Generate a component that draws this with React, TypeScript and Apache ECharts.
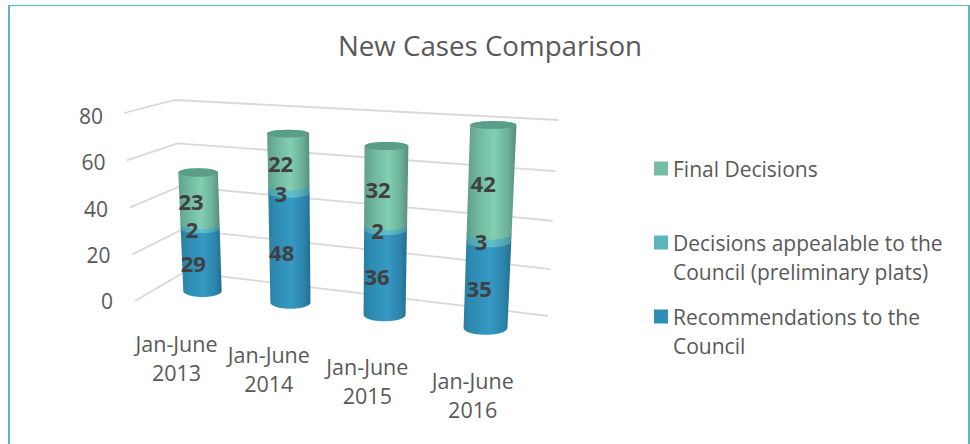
import React, { useEffect, useRef } from "react";
import * as echarts from "echarts";

const titleText = "New Cases Comparison";
const categories = ["Jan-June\n2013", "Jan-June\n2014", "Jan-June\n2015", "Jan-June\n2016"];
const yTicks = [0, 20, 40, 60, 80];
const recommendations = [29, 48, 36, 35];
const appealable = [2, 3, 2, 3];
const finalDecisions = [23, 22, 32, 42];
const nameFinal = "Final Decisions";
const nameAppealable = "Decisions appealable to the Council (preliminary plats)";
const nameRecommendations = "Recommendations to the Council";
const legendText: Record<string, string> = {
  [nameFinal]: nameFinal,
  [nameAppealable]: "\nDecisions appealable to the\nCouncil (preliminary plats)",
  [nameRecommendations]: "\nRecommendations to the\nCouncil",
};

const FONT = "'Open Sans', sans-serif";
const GRID = { left: 113, top: 116, width: 400, height: 185 };

type P = [number, number];
// Perspective map of the unit square (u along the categories, v up the value axis) onto a quad.
function makeHomography(p00: P, p10: P, p01: P, p11: P) {
  const dx1 = p10[0] - p11[0], dx2 = p01[0] - p11[0], sx = p00[0] - p10[0] + p11[0] - p01[0];
  const dy1 = p10[1] - p11[1], dy2 = p01[1] - p11[1], sy = p00[1] - p10[1] + p11[1] - p01[1];
  const den = dx1 * dy2 - dx2 * dy1;
  const g = (sx * dy2 - dx2 * sy) / den, h = (dx1 * sy - sx * dy1) / den;
  const a = p10[0] - p00[0] + g * p10[0], b = p01[0] - p00[0] + h * p01[0];
  const d = p10[1] - p00[1] + g * p10[1], e = p01[1] - p00[1] + h * p01[1];
  return (u: number, v: number) => {
    const w = g * u + h * v + 1;
    return { x: (a * u + b * v + p00[0]) / w, y: (d * u + e * v + p00[1]) / w, w };
  };
}
const barPlane = makeHomography([202.5, 291], [485.5, 328], [195.9, 112.8], [493.3, 125]);
const leftWall = makeHomography([135, 301], [184.5, 272], [124, 113], [175, 100]);
const backWall = makeHomography([184.5, 272], [548, 316], [175, 100], [558, 120]);

function norm(api: any, index: number, value: number) {
  const c = api.coord([index, value]);
  return { u: (c[0] - GRID.left) / GRID.width, v: (GRID.top + GRID.height - c[1]) / GRID.height };
}
function disc(api: any, index: number, value: number) {
  const n = norm(api, index, value);
  const p = barPlane(n.u + 0.03 * n.u * (1 - n.u), n.v);
  const r = 19.2 / p.w;
  return { x: p.x, y: p.y, r, ry: r * (0.31 - 0.14 * n.v) };
}
function arc(d: any, from: number, to: number) {
  const pts: number[][] = [];
  for (let k = 0; k <= 24; k++) {
    const t = from + ((to - from) * k) / 24;
    pts.push([d.x + d.r * Math.cos(t), d.y + d.ry * Math.sin(t)]);
  }
  return pts;
}
const hGrad = (stops: [number, string][]) => ({
  type: "linear", x: 0, y: 0, x2: 1, y2: 0,
  colorStops: stops.map(([offset, color]) => ({ offset, color })),
});
const blueFill = hGrad([[0, "#2b7da1"], [0.15, "#2e8ab0"], [0.55, "#3699c4"], [0.85, "#2c84aa"], [1, "#256d8d"]]);
const tealFill = hGrad([[0, "#4a9aa8"], [0.2, "#52abb8"], [0.55, "#60bfcc"], [0.85, "#50a5b2"], [1, "#468e9b"]]);
const greenFill = hGrad([[0, "#5f9e8b"], [0.2, "#6eb49e"], [0.55, "#82cfb1"], [0.85, "#6aad97"], [1, "#568c7d"]]);

function segmentSeries(name: string, values: number[], below: number[], fill: any, swatch: string, cap: boolean) {
  return {
    type: "custom", name, coordinateSystem: "cartesian2d", silent: true,
    itemStyle: { color: swatch },
    encode: { x: 0, y: [1, 2] },
    data: values.map((v, i) => [i, below[i], below[i] + v]),
    renderItem: (_: any, api: any) => {
      const i = api.value(0);
      const lo = disc(api, i, api.value(1));
      const hi = disc(api, i, api.value(2));
      const children: any[] = [{
        type: "polygon",
        shape: { points: [...arc(lo, Math.PI, 0), ...arc(hi, 0, -Math.PI)] },
        style: { fill },
      }];
      if (cap) {
        children.push({
          type: "polygon",
          shape: { points: arc(hi, 0, Math.PI * 2) },
          style: { fill: "#5a9d88" },
        });
      }
      return { type: "group", children };
    },
  };
}

export default function App() {
  const ref = useRef<HTMLDivElement>(null);
  useEffect(() => {
    const chart = echarts.init(ref.current!, undefined, { renderer: "svg" });
    const zero = recommendations.map(() => 0);
    const base2 = recommendations.slice();
    const base3 = recommendations.map((v, i) => v + appealable[i]);
    const labelData: number[][] = [];
    [[recommendations, zero], [appealable, base2], [finalDecisions, base3]].forEach(([vals, lows]) =>
      vals.forEach((v, i) => labelData.push([i, lows[i] + v / 2, v]))
    );
    const legendCommon = {
      orient: "vertical", padding: 0, itemWidth: 14, itemHeight: 14, icon: "rect",
      left: 654, selectedMode: false,
      formatter: (n: string) => legendText[n],
      textStyle: { fontFamily: FONT, fontSize: 21, color: "#595959", lineHeight: 29 },
    };
    chart.setOption({
      animation: false,
      backgroundColor: "#ffffff",
      title: {
        text: titleText, left: 485, top: 26, textAlign: "center",
        textStyle: { fontFamily: FONT, fontSize: 27.7, fontWeight: "normal", color: "#595959" },
      },
      legend: [
        { ...legendCommon, data: [nameFinal], top: 154 },
        { ...legendCommon, data: [nameAppealable], top: 199 },
        { ...legendCommon, data: [nameRecommendations], top: 273 },
      ],
      grid: { left: GRID.left, top: GRID.top, width: GRID.width, height: GRID.height },
      xAxis: { type: "category", data: categories, boundaryGap: false, show: false },
      yAxis: {
        type: "value", min: 0, max: 80, interval: 20,
        axisLine: { show: false }, axisTick: { show: false }, splitLine: { show: false },
        axisLabel: {
          margin: 0,
          formatter: (v: number) => `{t${v}|${v}}`,
          rich: Object.fromEntries(yTicks.map((v) => [`t${v}`, {
            fontFamily: FONT, fontSize: 21, color: "#595959", padding: [0, (v / 80) * 10, 0, 0],
          }])),
        },
      },
      graphic: [
        { type: "line", shape: { x1: 9, y1: 5, x2: 9, y2: 444 }, style: { stroke: "#5ab9c3", lineWidth: 2 } },
        { type: "line", shape: { x1: 8, y1: 5.5, x2: 970, y2: 5.5 }, style: { stroke: "#5ab9c3", lineWidth: 1 } },
        { type: "line", shape: { x1: 969, y1: 5, x2: 969, y2: 444 }, style: { stroke: "#5ab9c3", lineWidth: 2 } },
      ],
      series: [
        {
          type: "custom", name: "gridlines", silent: true,
          encode: { x: 0, y: 1 },
          data: yTicks.map((t) => [0, t]),
          renderItem: (_: any, api: any) => {
            const v = norm(api, 0, api.value(1)).v;
            const a = leftWall(0, v), b = leftWall(1, v), c = backWall(1, v);
            return {
              type: "polyline",
              shape: { points: [[a.x, a.y], [b.x, b.y], [c.x, c.y]] },
              style: { stroke: "#d9d9d9", lineWidth: 1.8, fill: "none" },
            };
          },
        },
        segmentSeries(nameRecommendations, recommendations, zero, blueFill, "#2f8db6", false),
        segmentSeries(nameAppealable, appealable, base2, tealFill, "#5ab5bf", false),
        segmentSeries(nameFinal, finalDecisions, base3, greenFill, "#77bda3", true),
        {
          type: "custom", name: "values", silent: true,
          encode: { x: 0, y: 1 },
          data: labelData,
          renderItem: (_: any, api: any) => {
            const p = disc(api, api.value(0), api.value(1));
            return {
              type: "text",
              style: {
                text: String(api.value(2)), x: p.x - 8, y: p.y + 3, align: "center", verticalAlign: "middle",
                fill: "#404040", fontFamily: FONT, fontSize: 22, fontWeight: "bold",
              },
            };
          },
        },
        {
          type: "custom", name: "categories", silent: true,
          encode: { x: 0, y: 1 },
          data: categories.map((_, i) => [i, 0]),
          renderItem: (_: any, api: any) => {
            const i = api.value(0);
            const p = disc(api, i, 0);
            return {
              type: "text",
              style: {
                text: categories[i], x: p.x - 26 + 4.4 * i, y: p.y + 66.5, align: "center", verticalAlign: "middle",
                fill: "#595959", fontFamily: FONT, fontSize: 21.5, lineHeight: 29,
              },
            };
          },
        },
      ],
    });
    return () => chart.dispose();
  }, []);
  return <div ref={ref} style={{ position: "absolute", left: 0, top: 0, width: 970, height: 444 }} />;
}
